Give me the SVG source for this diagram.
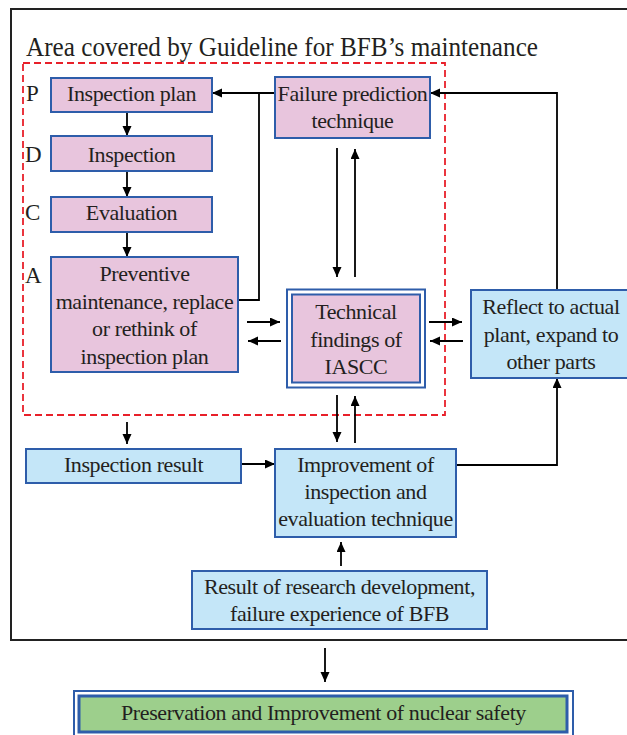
<svg xmlns="http://www.w3.org/2000/svg" width="627" height="735" viewBox="0 0 627 735">
<defs>
<style>
text{font-family:"Liberation Serif","Times New Roman",serif;fill:#231f20;}
.t{font-size:22px;letter-spacing:-0.4px;text-anchor:middle;}
.lbl{font-size:23px;}
.pink{fill:#e8c5dd;stroke:#2e5daa;stroke-width:2;}
.blue{fill:#c4e6f8;stroke:#2e5daa;stroke-width:2;}
.c{fill:none;stroke:#000;stroke-width:1.8;}
.a{marker-end:url(#ah);}
</style>
<marker id="ah" markerUnits="userSpaceOnUse" markerWidth="11" markerHeight="10" refX="10" refY="4.5" orient="auto">
<path d="M0,0 L10,4.5 L0,9 z" fill="#000"/>
</marker>
</defs>
<rect width="627" height="735" fill="#fff"/>
<g id="frame">
<rect x="11" y="9" width="640" height="631" fill="none" stroke="#222" stroke-width="2"/>
<text x="26" y="56" font-size="27" textLength="512" lengthAdjust="spacingAndGlyphs">Area covered by Guideline for BFB’s maintenance</text>
</g>
<g id="guideline-area">
<rect x="23" y="63" width="422" height="352" fill="none" stroke="#e8202a" stroke-width="1.8" stroke-dasharray="7,4"/>
<text class="lbl" x="26" y="101">P</text>
<text class="lbl" x="25" y="161.5">D</text>
<text class="lbl" x="25" y="220">C</text>
<text class="lbl" x="25" y="283">A</text>
</g>
<g id="connectors">
<path class="c a" d="M127,112 V136"/>
<path class="c a" d="M127,171 V197"/>
<path class="c a" d="M127,232 V257"/>
<path class="c a" d="M275,93 H212"/>
<path class="c" d="M238,300 H259 V93"/>
<path class="c a" d="M337,148 V277"/>
<path class="c a" d="M355,277 V149"/>
<path class="c a" d="M247,322 H280"/>
<path class="c a" d="M281,341 H248"/>
<path class="c a" d="M429,322 H462"/>
<path class="c a" d="M463,341 H430"/>
<path class="c a" d="M557,290 V93 H430"/>
<path class="c a" d="M337,395 V442"/>
<path class="c a" d="M355,443 V396"/>
<path class="c a" d="M456,465 H557 V378"/>
<path class="c a" d="M127,422 V444"/>
<path class="c a" d="M241,464 H275"/>
<path class="c a" d="M341,566 V542"/>
<path class="c a" d="M325,648 V682"/>
</g>
<g id="inspection-plan">
<rect class="pink" x="51" y="78" width="161" height="34"/>
<text class="t" x="131.5" y="101">Inspection plan</text>
</g>
<g id="inspection">
<rect class="pink" x="51" y="136" width="161" height="35"/>
<text class="t" x="131.5" y="161.5">Inspection</text>
</g>
<g id="evaluation">
<rect class="pink" x="51" y="197" width="161" height="35"/>
<text class="t" x="131.5" y="220">Evaluation</text>
</g>
<g id="preventive">
<rect class="pink" x="51" y="257" width="187" height="115"/>
<text class="t" x="144.5" y="281">Preventive</text>
<text class="t" x="144.5" y="308.5">maintenance, replace</text>
<text class="t" x="144.5" y="336">or rethink of</text>
<text class="t" x="144.5" y="363.5">inspection plan</text>
</g>
<g id="failure-prediction">
<rect class="pink" x="275" y="77" width="155" height="61"/>
<text class="t" x="352.5" y="101">Failure prediction</text>
<text class="t" x="352.5" y="128">technique</text>
</g>
<g id="technical-findings">
<rect x="287" y="289.5" width="138" height="98" fill="#fff" stroke="#2e5daa" stroke-width="2"/>
<rect class="pink" x="292" y="294.5" width="128" height="88" stroke-width="3"/>
<text class="t" x="356" y="318.5">Technical</text>
<text class="t" x="356" y="346.5">findings of</text>
<text class="t" x="356" y="373.5">IASCC</text>
</g>
<g id="reflect">
<rect class="blue" x="471" y="290" width="162" height="88"/>
<text class="t" x="551" y="313.5">Reflect to actual</text>
<text class="t" x="551" y="341.5">plant, expand to</text>
<text class="t" x="551" y="368.5">other parts</text>
</g>
<g id="inspection-result">
<rect class="blue" x="26" y="449" width="215" height="34"/>
<text class="t" x="133.5" y="472">Inspection result</text>
</g>
<g id="improvement">
<rect class="blue" x="275" y="449" width="181" height="88"/>
<text class="t" x="365.5" y="472">Improvement of</text>
<text class="t" x="365.5" y="498.5">inspection and</text>
<text class="t" x="365.5" y="526">evaluation technique</text>
</g>
<g id="research">
<rect class="blue" x="192" y="571" width="295" height="58"/>
<text class="t" x="339.5" y="593.5">Result of research development,</text>
<text class="t" x="339.5" y="621">failure experience of BFB</text>
</g>
<g id="nuclear-safety">
<rect x="74" y="691" width="499" height="50" fill="#fff" stroke="#2e5daa" stroke-width="2"/>
<rect x="79" y="696" width="488" height="36" fill="#9dcf8c" stroke="#2e5daa" stroke-width="3"/>
<text class="t" x="323.5" y="720">Preservation and Improvement of nuclear safety</text>
</g>
</svg>
